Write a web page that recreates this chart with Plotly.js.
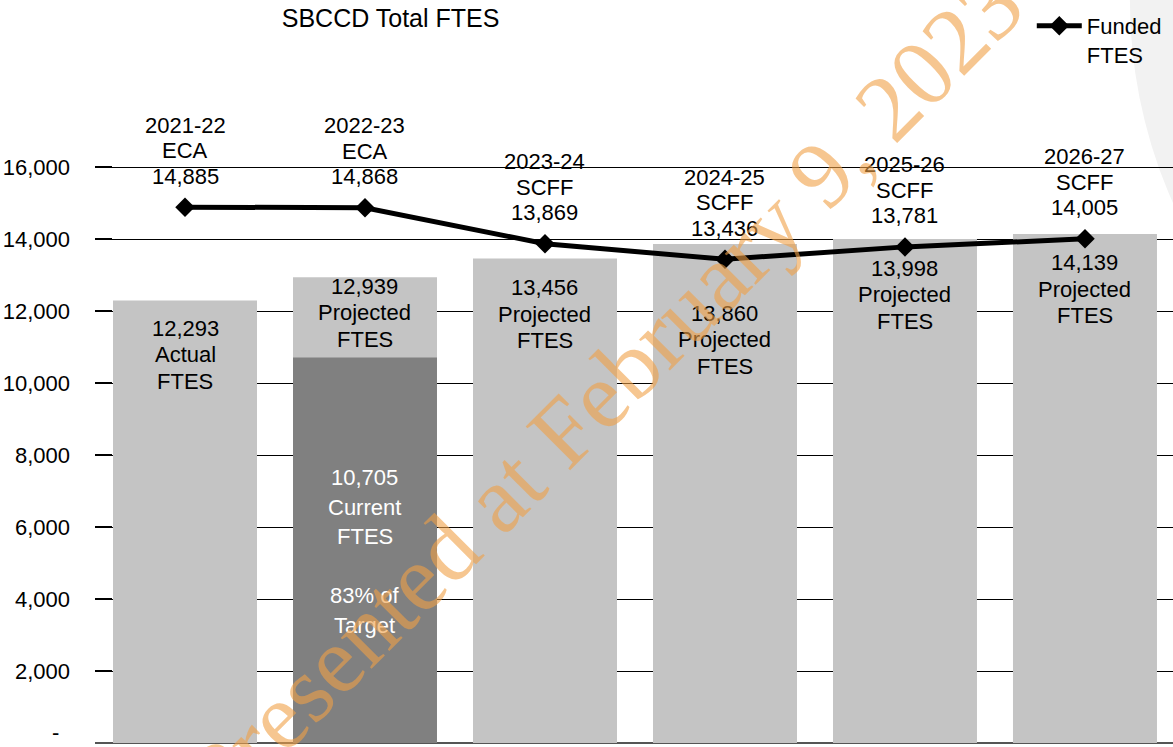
<!DOCTYPE html>
<html>
<head>
<meta charset="utf-8">
<script src="https://cdn.plot.ly/plotly-3.0.1.min.js"></script>
<style>
  html, body { margin: 0; padding: 0; background: #ffffff; }
  #chart { width: 1173px; height: 747px; }
</style>
</head>
<body>
<div id="chart"></div>
<script>
// ---- data ----
const years = ['2021-22', '2022-23', '2023-24', '2024-25', '2025-26', '2026-27'];
const fundType = ['ECA', 'ECA', 'SCFF', 'SCFF', 'SCFF', 'SCFF'];
const fundedFTES = [14885, 14868, 13869, 13436, 13781, 14005];
const barFTES = [12293, 12939, 13456, 13860, 13998, 14139];
const barKind = ['Actual', 'Projected', 'Projected', 'Projected', 'Projected', 'Projected'];
const currentFTES = [null, 10705, null, null, null, null];
const currentPctText = ['', '83% of', '', '', '', ''];
const currentPctText2 = ['', 'Target', '', '', '', ''];
const yTickVals = [0, 2000, 4000, 6000, 8000, 10000, 12000, 14000, 16000];
const yTickText = ['-', '2,000', '4,000', '6,000', '8,000', '10,000', '12,000', '14,000', '16,000'];

// ---- layout helpers (positions / styles) ----
const FONT = 'Liberation Sans, Arial, sans-serif';
const barLabelOffsetPx = [28, 9, 29, 69, 29, 29];   // first line offset below bar top
const fmt = v => v.toLocaleString('en-US');
const xCats = years.map((_, i) => i);

const traces = [
  {
    type: 'bar', x: xCats, y: barFTES, width: 0.8,
    marker: { color: '#c4c4c4' }, showlegend: false, hoverinfo: 'skip'
  },
  {
    type: 'bar', x: xCats, y: currentFTES, width: 0.8,
    marker: { color: '#808080' }, showlegend: false, hoverinfo: 'skip'
  },
  {
    type: 'scatter', mode: 'lines+markers', x: xCats, y: fundedFTES,
    name: 'Funded<br>FTES',
    line: { color: '#000000', width: 5 },
    marker: { symbol: 'diamond', size: 15, color: '#000000' },
    hoverinfo: 'skip'
  }
];

const annotations = [];
// funded line labels (3 lines above each point)
years.forEach((yr, i) => {
  const lines = [yr, fundType[i], fmt(fundedFTES[i])];
  lines.forEach((t, k) => {
    annotations.push({
      x: i, y: fundedFTES[i], xref: 'x', yref: 'y', text: t, showarrow: false,
      yanchor: 'middle', xanchor: 'center', yshift: 31 + (2 - k) * 25.5,
      font: { family: FONT, size: 22, color: '#000000' }
    });
  });
});
// bar labels
barFTES.forEach((v, i) => {
  const lines = [fmt(v), barKind[i], 'FTES'];
  lines.forEach((t, k) => {
    annotations.push({
      x: i, y: v, xref: 'x', yref: 'y', text: t, showarrow: false,
      yanchor: 'middle', xanchor: 'center', yshift: -(barLabelOffsetPx[i] + k * 26.5),
      font: { family: FONT, size: 22, color: '#000000' }
    });
  });
});
// current FTES labels (white, inside dark bar)
currentFTES.forEach((v, i) => {
  if (v == null) return;
  const lines = [fmt(v), 'Current', 'FTES', '', currentPctText[i], currentPctText2[i]];
  lines.forEach((t, k) => {
    if (!t) return;
    annotations.push({
      x: i, y: v, xref: 'x', yref: 'y', text: t, showarrow: false,
      yanchor: 'middle', xanchor: 'center', yshift: -(120 + k * 29.5),
      font: { family: FONT, size: 22, color: '#000000'.replace('#000000', '#ffffff') }
    });
  });
});
// zero tick label (drawn as annotation so it is not dropped at the bottom edge)
annotations.push({
  xref: 'paper', yref: 'y', x: 0, y: yTickVals[0], text: yTickText[0], showarrow: false,
  xanchor: 'center', yanchor: 'bottom', xshift: -40, yshift: -4,
  font: { family: FONT, size: 22, color: '#000000' }
});
// watermark
annotations.push({
  xref: 'paper', yref: 'paper', x: 0.472, y: 0.548,
  text: 'Presented at February 9, 2023', showarrow: false, textangle: -45,
  xanchor: 'center', yanchor: 'middle',
  font: { family: 'Liberation Serif, Times New Roman, serif', size: 95, color: 'rgba(240,160,70,0.6)' }
});

const layout = {
  width: 1173, height: 747,
  margin: { l: 95, r: 0, t: 100, b: 4 },
  paper_bgcolor: '#ffffff',
  plot_bgcolor: 'rgba(0,0,0,0)',
  barmode: 'overlay',
  title: {
    text: 'SBCCD Total FTES', x: 0.333, xanchor: 'center', y: 0.975, yanchor: 'middle',
    xref: 'container', yref: 'container',
    font: { family: FONT, size: 25, color: '#000000' }
  },
  xaxis: {
    range: [-0.5, 5.489], showticklabels: false, showgrid: false, zeroline: false,
    showline: false, ticks: '', fixedrange: true
  },
  yaxis: {
    range: [0, 17861], tickvals: yTickVals, ticktext: [''].concat(yTickText.slice(1)),
    showgrid: true, gridcolor: '#000000', gridwidth: 1,
    zeroline: true, zerolinecolor: '#555555', zerolinewidth: 2,
    ticks: 'inside', ticklen: 17, tickwidth: 2, tickcolor: '#000000',
    ticklabelstandoff: 24,
    tickfont: { family: FONT, size: 22, color: '#000000' },
    showline: false, fixedrange: true
  },
  legend: {
    x: 0.869, y: 1.148, xanchor: 'left', yanchor: 'top', valign: 'top',
    itemwidth: 45,
    bgcolor: 'rgba(0,0,0,0)', borderwidth: 0,
    font: { family: FONT, size: 22, color: '#000000' }
  },
  showlegend: true,
  shapes: [{
    type: 'circle', xref: 'paper', yref: 'paper', layer: 'below',
    x0: 0.960, x1: 1.888, y0: 0.378, y1: 1.933,
    fillcolor: '#f2f2f2', line: { width: 0 }
  }],
  annotations: annotations
};

Plotly.newPlot('chart', traces, layout, { displayModeBar: false, staticPlot: true });
</script>
</body>
</html>
